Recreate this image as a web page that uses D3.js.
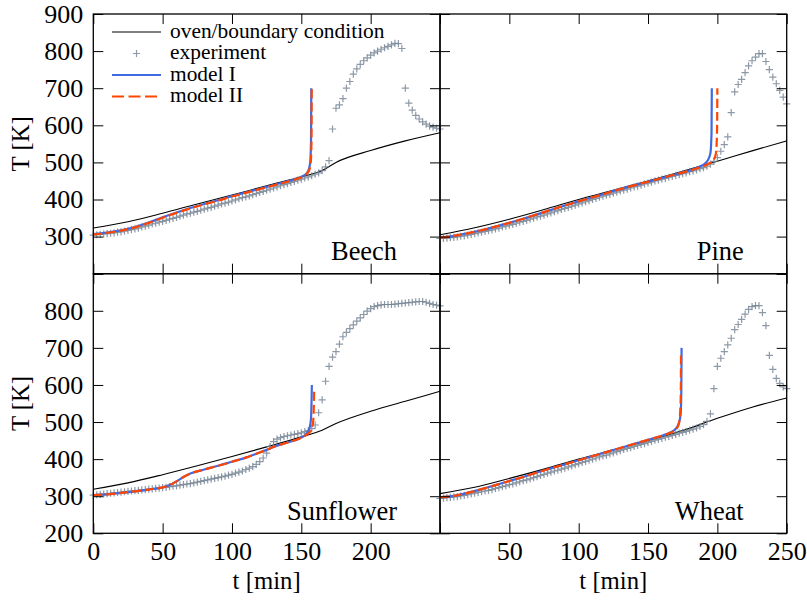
<!DOCTYPE html>
<html>
<head>
<meta charset="utf-8">
<script src="https://cdn.jsdelivr.net/npm/d3@7"></script>
<style>
  body { margin: 0; background: #fff; }
  text { font-family: "Liberation Serif", "DejaVu Serif", serif; fill: #000; }
</style>
</head>
<body>
<div id="chart"></div>
<script>
'use strict';

// oven / boundary condition, sampled at these times [min]
const ovenTime = [0, 25, 50, 75, 100, 125, 150, 165, 175, 200, 225, 250];
const beechOven = [323, 340, 363, 388, 412, 437, 461, 478, 500, 532, 558, 580];
const pineOven = [305, 324, 347, 373, 400, 425, 450, 465, 476, 503, 531, 558];
const sunflowerOven = [319, 336, 358, 382, 407, 433, 460, 478, 496, 529, 556, 583];
const wheatOven = [307, 324, 348, 373, 400, 425, 450, 466, 477, 510, 540, 565];

// experiment, one reading every 2.5 min from 0 to 250
const expTime = d3.range(0, 250.01, 2.5);
const beechExp = [
  304, 305, 306, 307, 308, 309, 310, 312, 313, 315,
  317, 319, 321, 323, 326, 328, 331, 334, 336, 339,
  341, 344, 347, 349, 352, 355, 358, 361, 363, 366,
  368, 371, 374, 377, 379, 382, 385, 388, 390, 393,
  396, 399, 402, 405, 407, 410, 413, 416, 419, 422,
  425, 428, 431, 434, 437, 440, 443, 446, 449, 452,
  455, 458, 461, 464, 468, 472, 478, 488, 505, 590,
  646, 655, 672, 700, 718, 738, 752, 764, 774, 782,
  789, 795, 800, 805, 809, 813, 817, 821, 820, 807,
  700, 660, 641, 627, 617, 609, 603, 598, 595, 592,
  590];
const pineExp = [
  295, 295, 296, 297, 298, 299, 301, 302, 304, 306,
  308, 310, 312, 314, 316, 318, 321, 323, 326, 328,
  331, 333, 336, 339, 341, 344, 347, 350, 353, 355,
  358, 361, 364, 367, 370, 373, 376, 379, 382, 385,
  388, 391, 394, 397, 400, 403, 406, 409, 412, 414,
  417, 420, 423, 425, 428, 431, 434, 436, 439, 442,
  444, 447, 450, 452, 455, 457, 460, 462, 465, 467,
  470, 472, 475, 477, 480, 483, 486, 490, 495, 503,
  513, 530, 548, 569, 634, 690, 710, 724, 742, 760,
  774, 784, 793, 793, 772, 750, 730, 712, 694, 676,
  658];
const sunflowerExp = [
  303, 304, 305, 306, 307, 308, 309, 310, 311, 312,
  313, 314, 315, 316, 317, 318, 319, 320, 321, 322,
  323, 324, 326, 327, 328, 330, 331, 333, 334, 336,
  338, 340, 342, 344, 346, 348, 350, 352, 354, 357,
  359, 362, 365, 368, 372, 376, 380, 386, 393, 403,
  416, 434, 447, 454, 458, 461, 463, 465, 467, 469,
  471, 474, 477, 482, 492, 525, 560, 610, 650, 675,
  690, 710, 730, 742, 752, 762, 772, 781, 790, 799,
  806, 811, 814, 816, 817, 817, 817, 818, 819, 820,
  821, 822, 823, 824, 825, 825, 823, 820, 817, 815,
  813];
const wheatExp = [
  294, 295, 296, 297, 298, 299, 301, 302, 304, 306,
  308, 310, 312, 314, 316, 318, 321, 323, 326, 328,
  331, 333, 336, 339, 342, 344, 347, 350, 353, 356,
  359, 362, 365, 368, 370, 373, 376, 379, 382, 385,
  388, 391, 394, 397, 400, 403, 406, 409, 411, 414,
  417, 420, 423, 426, 429, 431, 434, 437, 440, 442,
  445, 448, 451, 453, 456, 459, 461, 464, 467, 470,
  472, 475, 478, 481, 484, 488, 493, 502, 522, 590,
  650, 672, 690, 708, 726, 749, 763, 777, 791, 804,
  811, 814, 814, 795, 760, 680, 642, 618, 604, 595,
  590];

// model I and model II
const beechM1Time = [0, 10, 20, 30, 40, 50, 60, 70, 80, 90, 100, 110, 120, 130, 140, 148, 152, 154, 155.5, 156.5, 157, 157.2];
const beechM1 = [307, 311, 317, 326, 338, 352, 365, 377, 388, 398, 409, 419, 429, 439, 449, 458, 465, 471, 482, 505, 560, 700];
const beechM2Time = [0, 10, 20, 30, 40, 50, 60, 70, 80, 90, 100, 110, 120, 130, 140, 148, 152, 154, 155.8, 156.8, 157.3, 157.5];
const beechM2 = [306, 310, 316, 325, 337, 351, 364, 376, 387, 397, 408, 418, 428, 438, 448, 457, 464, 470, 480, 500, 550, 700];

const pineM1Time = [0, 10, 20, 30, 40, 50, 60, 70, 80, 90, 100, 110, 120, 130, 140, 150, 160, 170, 180, 186, 190, 193, 195, 195.8, 196];
const pineM1 = [297, 302, 309, 317, 327, 337, 348, 360, 372, 384, 395, 406, 417, 428, 438, 448, 458, 468, 478, 486, 494, 505, 525, 580, 700];
const pineM2Time = [0, 10, 20, 30, 40, 50, 60, 70, 80, 90, 100, 110, 120, 130, 140, 150, 160, 170, 180, 186, 190, 194, 197, 199, 199.8, 200];
const pineM2 = [297, 302, 309, 317, 327, 337, 348, 360, 372, 384, 395, 406, 417, 428, 438, 448, 458, 468, 478, 485, 490, 497, 505, 525, 590, 700];

const sunflowerM1Time = [0, 10, 20, 30, 40, 50, 55, 60, 65, 70, 80, 90, 100, 110, 120, 125, 130, 140, 150, 154, 156, 157, 157.4, 157.6];
const sunflowerM1 = [303, 305, 309, 313, 318, 324, 330, 340, 352, 361, 372, 382, 393, 404, 418, 425, 433, 445, 458, 470, 485, 510, 560, 600];
const sunflowerM2Time = [0, 10, 20, 30, 40, 50, 55, 60, 65, 70, 80, 90, 100, 110, 120, 125, 130, 140, 150, 154, 157, 158.5, 159, 159.3];
const sunflowerM2 = [303, 305, 309, 313, 318, 324, 330, 340, 352, 361, 372, 382, 393, 404, 418, 425, 433, 445, 458, 466, 478, 500, 540, 592];

const wheatM1Time = [0, 10, 20, 30, 40, 50, 60, 70, 80, 90, 100, 110, 120, 130, 140, 150, 160, 166, 170, 172, 173.5, 174, 174.2];
const wheatM1 = [297, 301, 309, 319, 330, 341, 352, 364, 375, 386, 397, 408, 419, 430, 441, 452, 463, 472, 482, 495, 520, 580, 700];
const wheatM2Time = [0, 10, 20, 30, 40, 50, 60, 70, 80, 90, 100, 110, 120, 130, 140, 150, 160, 166, 170, 172, 173, 173.6, 173.8];
const wheatM2 = [297, 301, 309, 319, 330, 341, 352, 364, 375, 386, 397, 408, 419, 430, 441, 452, 463, 471, 480, 492, 515, 570, 688];

// ticks and their labels
const xTickVals = [0, 50, 100, 150, 200, 250];
const yTickVals = [200, 300, 400, 500, 600, 700, 800, 900];
const xLabelsLeft = [0, 50, 100, 150, 200];
const xLabelsRight = [50, 100, 150, 200, 250];
const yLabelsTop = [300, 400, 500, 600, 700, 800, 900];
const yLabelsBottom = [200, 300, 400, 500, 600, 700, 800];
const legendNames = ["oven/boundary condition", "experiment", "model I", "model II"];

const colorOven = "#000000";
const colorExp = "#708090";
const colorM1 = "#4169e1";
const colorM2 = "#ff4500";

const fontFamily = '"Liberation Serif", "DejaVu Serif", serif';
const svgWidth = 807, svgHeight = 603;
const plotLeft = 93.3, plotMidX = 440, plotRight = 786.7;
const plotTop = 14, plotMidY = 273.7, plotBottom = 533.3;

const svg = d3.select("#chart").append("svg")
    .attr("width", svgWidth)
    .attr("height", svgHeight);

// pick font sizes so that the serif font on hand gives the widths of the reference
function fitSize(str, target) {
    let t = svg.append("text").attr("font-size", 100).style("font-family", fontFamily).text(str);
    let w = t.node().getComputedTextLength();
    t.remove();
    return 100 * target / w;
}
const tickFont = fitSize("900", 39);
const legendFont = Math.min(fitSize("oven/boundary condition", 245), 21.4);
const nameFont = fitSize("Sunflower", 110);
const labelFont = fitSize("[min]", 55);

const panels = [
    {name: "Beech", col: 0, row: 0, oven: beechOven, exp: beechExp, m1t: beechM1Time, m1: beechM1, m2t: beechM2Time, m2: beechM2},
    {name: "Pine", col: 1, row: 0, oven: pineOven, exp: pineExp, m1t: pineM1Time, m1: pineM1, m2t: pineM2Time, m2: pineM2},
    {name: "Sunflower", col: 0, row: 1, oven: sunflowerOven, exp: sunflowerExp, m1t: sunflowerM1Time, m1: sunflowerM1, m2t: sunflowerM2Time, m2: sunflowerM2},
    {name: "Wheat", col: 1, row: 1, oven: wheatOven, exp: wheatExp, m1t: wheatM1Time, m1: wheatM1, m2t: wheatM2Time, m2: wheatM2}
];

const plusPath = "M-3.6,0H3.6M0,-3.6V3.6";

panels.forEach(p => {
    let x0 = p.col ? plotMidX : plotLeft, x1 = p.col ? plotRight : plotMidX;
    let y0 = p.row ? plotMidY : plotTop, y1 = p.row ? plotBottom : plotMidY;
    let x = d3.scaleLinear().domain([0, 250]).range([x0, x1]);
    let y = d3.scaleLinear().domain([200, 900]).range([y1, y0]);
    let g = svg.append("g");

    let line = d3.line()
        .x(d => x(d[0]))
        .y(d => y(d[1]))
        .curve(d3.curveMonotoneX);

    // oven
    g.append("path")
        .datum(ovenTime.map((t, i) => [t, p.oven[i]]))
        .attr("d", line)
        .attr("fill", "none")
        .attr("stroke", colorOven)
        .attr("stroke-width", 1.1);

    // experiment markers
    g.selectAll(".exp")
        .data(expTime.map((t, i) => [t, p.exp[i]]))
        .enter()
        .append("path")
        .attr("class", "exp")
        .attr("transform", d => "translate(" + x(d[0]) + "," + y(d[1]) + ")")
        .attr("d", plusPath)
        .attr("stroke", colorExp)
        .attr("stroke-width", 1.2)
        .attr("stroke-opacity", 0.8);

    // model I
    g.append("path")
        .datum(p.m1t.map((t, i) => [t, p.m1[i]]))
        .attr("d", line)
        .attr("fill", "none")
        .attr("stroke", colorM1)
        .attr("stroke-width", 2.2);

    // model II
    g.append("path")
        .datum(p.m2t.map((t, i) => [t, p.m2[i]]))
        .attr("d", line)
        .attr("fill", "none")
        .attr("stroke", colorM2)
        .attr("stroke-width", 2.2)
        .attr("stroke-dasharray", "9,4");

    // ticks on all four sides, pointing inward
    let xLabels = p.row === 1 ? (p.col ? xLabelsRight : xLabelsLeft) : [];
    let yLabels = p.col === 0 ? (p.row ? yLabelsBottom : yLabelsTop) : [];

    let axB = g.append("g")
        .attr("transform", "translate(0," + y1 + ")")
        .call(d3.axisBottom(x).tickValues(xTickVals).tickSizeInner(-10).tickSizeOuter(0)
            .tickPadding(27 - 0.71 * tickFont)
            .tickFormat(v => xLabels.includes(v) ? v : ""));
    let axT = g.append("g")
        .attr("transform", "translate(0," + y0 + ")")
        .call(d3.axisTop(x).tickValues(xTickVals).tickSizeInner(-10).tickSizeOuter(0).tickFormat(""));
    let axL = g.append("g")
        .attr("transform", "translate(" + x0 + ",0)")
        .call(d3.axisLeft(y).tickValues(yTickVals).tickSizeInner(-10).tickSizeOuter(0).tickPadding(10)
            .tickFormat(v => yLabels.includes(v) ? v : ""));
    let axR = g.append("g")
        .attr("transform", "translate(" + x1 + ",0)")
        .call(d3.axisRight(y).tickValues(yTickVals).tickSizeInner(-10).tickSizeOuter(0).tickFormat(""));

    [axB, axT, axL, axR].forEach(a => {
        a.select(".domain").remove();
        a.attr("font-size", tickFont).attr("font-family", fontFamily);
        a.selectAll("line").attr("stroke", "#000").attr("stroke-width", 1);
        a.selectAll("text").attr("fill", "#000");
    });

    // panel name
    g.append("text")
        .attr("x", x1 - 43)
        .attr("y", y1 - 13.5)
        .attr("text-anchor", "end")
        .attr("font-size", nameFont)
        .text(p.name);

    // frame
    g.append("rect")
        .attr("x", x0).attr("y", y0)
        .attr("width", x1 - x0).attr("height", y1 - y0)
        .attr("fill", "none")
        .attr("stroke", "#000")
        .attr("stroke-width", 1.3);

    // axis labels
    if (p.col === 0) {
        g.append("text")
            .attr("transform", "translate(29," + (y0 + y1) / 2 + ") rotate(-90)")
            .attr("text-anchor", "middle")
            .attr("font-size", labelFont)
            .text("T [K]");
    }
    if (p.row === 1) {
        g.append("text")
            .attr("x", (x0 + x1) / 2)
            .attr("y", 589)
            .attr("text-anchor", "middle")
            .attr("font-size", labelFont)
            .text("t [min]");
    }

    // legend in the first panel only
    if (p.name === "Beech") {
        let leg = g.append("g");
        let rowY = [32, 53.5, 75, 96.5];
        let lx0 = 112, lx1 = 161;
        leg.append("line").attr("x1", lx0).attr("x2", lx1).attr("y1", rowY[0]).attr("y2", rowY[0])
            .attr("stroke", colorOven).attr("stroke-width", 1.1);
        leg.append("path").attr("transform", "translate(" + (lx0 + lx1) / 2 + "," + rowY[1] + ")")
            .attr("d", plusPath).attr("stroke", colorExp).attr("stroke-width", 1.2).attr("stroke-opacity", 0.8);
        leg.append("line").attr("x1", lx0).attr("x2", lx1).attr("y1", rowY[2]).attr("y2", rowY[2])
            .attr("stroke", colorM1).attr("stroke-width", 2.2);
        leg.append("line").attr("x1", lx0).attr("x2", lx1).attr("y1", rowY[3]).attr("y2", rowY[3])
            .attr("stroke", colorM2).attr("stroke-width", 2.2).attr("stroke-dasharray", "12,4.5");
        legendNames.forEach((n, i) => {
            leg.append("text")
                .attr("x", 170)
                .attr("y", rowY[i] + 5.5)
                .attr("font-size", legendFont)
                .text(n);
        });
    }
});
</script>
</body>
</html>
